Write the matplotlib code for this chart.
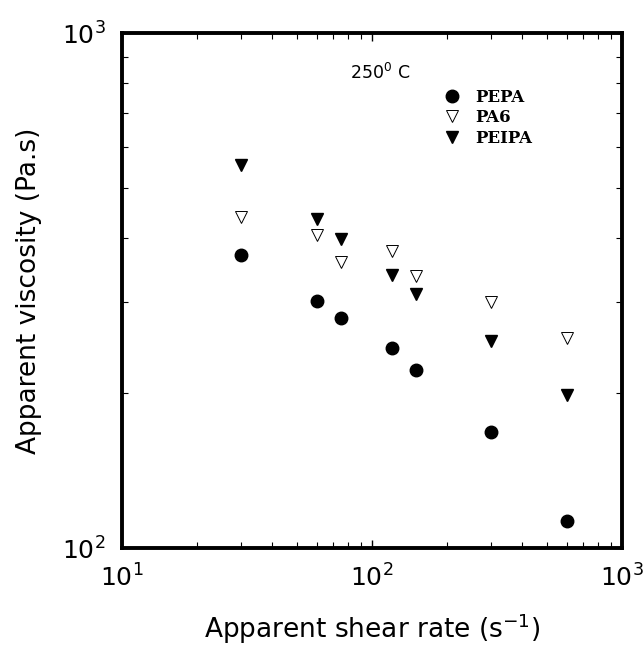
import matplotlib
matplotlib.use("Agg")
import matplotlib.pyplot as plt
from matplotlib.ticker import NullFormatter

# shear rate (1/s) and apparent viscosity (Pa.s) at 250 C
shear_rate = [30, 60, 75, 120, 150, 300, 600]
pepa = [371, 302, 280, 245, 222, 168, 113]
pa6 = [440, 405, 359, 377, 337, 301, 256]
peipa = [554, 435, 398, 339, 311, 252, 198]

fig = plt.figure(figsize=(6.44, 6.49), dpi=100)
ax = fig.add_axes([0.1894, 0.1556, 0.7764, 0.7935])

ax.plot(shear_rate, pepa, 'o', color='black', markersize=9, label='PEPA')
ax.plot(shear_rate, pa6, 'v', markerfacecolor='white', markeredgecolor='black',
        markeredgewidth=0.7, markersize=8, label='PA6')
ax.plot(shear_rate, peipa, 'v', color='black', markersize=9, label='PEIPA')

ax.set_xscale('log')
ax.set_yscale('log')
ax.set_xlim(10, 1000)
ax.set_ylim(100, 1000)
ax.xaxis.set_minor_formatter(NullFormatter())
ax.yaxis.set_minor_formatter(NullFormatter())

for s in ax.spines.values():
    s.set_linewidth(2.8)

ax.tick_params(which='both', direction='in', top=True, right=True, labelsize=18)
ax.tick_params(which='major', length=6, width=1, pad=12)
ax.tick_params(which='minor', length=4, width=0.8)

ax.set_xlabel('Apparent shear rate (s$^{-1}$)', fontsize=19, labelpad=14)
ax.set_ylabel('Apparent viscosity (Pa.s)', fontsize=19, labelpad=14)

ax.text(0.456, 0.922, '250$^0$ C', transform=ax.transAxes, fontsize=12.5,
        va='center', ha='left')

ax.legend(loc='upper left', bbox_to_anchor=(0.63, 0.905), frameon=False,
          prop={'family': 'DejaVu Serif', 'weight': 'bold', 'size': 12},
          handletextpad=0.9, labelspacing=0.22, handlelength=1.0,
          borderaxespad=0)

fig.savefig('out.png', dpi=100)
